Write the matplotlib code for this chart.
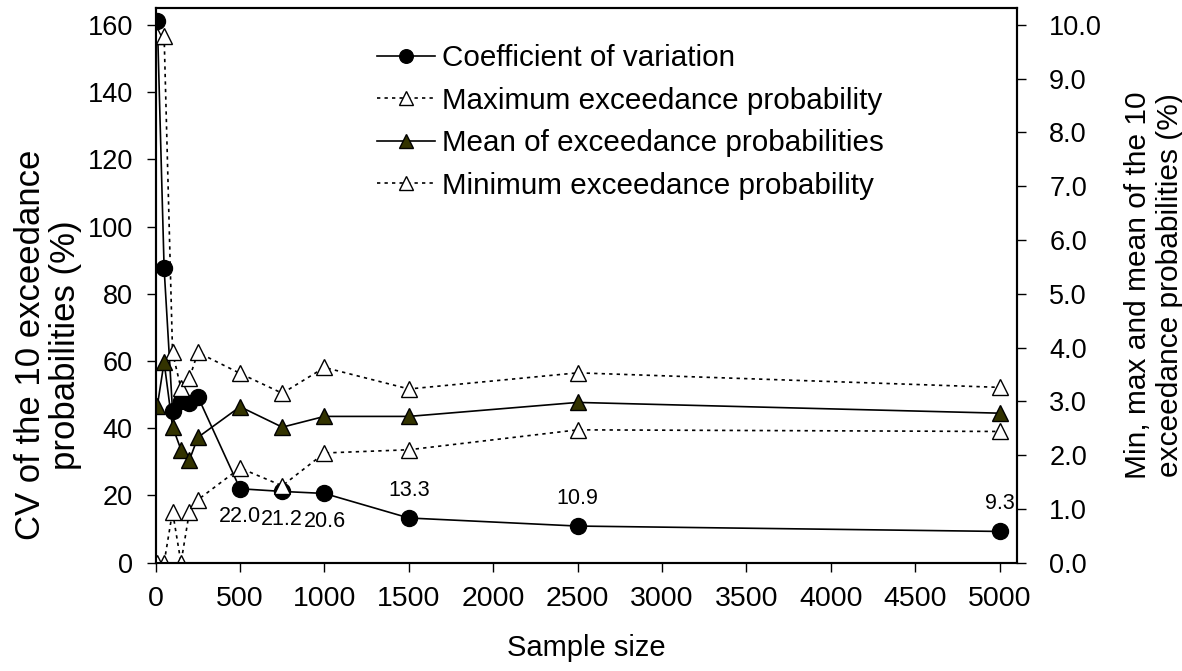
import matplotlib
matplotlib.use("Agg")
import matplotlib.pyplot as plt
from matplotlib.ticker import FormatStrFormatter

plt.rcParams['font.family'] = ['Liberation Sans', 'DejaVu Sans']

sample_size = [10, 50, 100, 150, 200, 250, 500, 750, 1000, 1500, 2500, 5000]
cv = [161.0, 87.6, 45.1, 48.0, 47.6, 49.4, 22.0, 21.2, 20.6, 13.3, 10.9, 9.3]
max_prob = [9.8, 9.8, 3.91, 3.24, 3.43, 3.91, 3.52, 3.15, 3.63, 3.23, 3.53, 3.26]
mean_prob = [2.92, 3.73, 2.53, 2.10, 1.91, 2.33, 2.90, 2.52, 2.72, 2.72, 2.98, 2.78]
min_prob = [0.0, 0.0, 0.95, 0.0, 0.95, 1.17, 1.76, 1.43, 2.04, 2.10, 2.47, 2.44]

# which CV points get a value label, and whether it sits below or above
labelled = {500: -1, 750: -1, 1000: -1, 1500: 1, 2500: 1, 5000: 1}

fig = plt.figure(figsize=(11.82, 6.71), dpi=100)
ax = fig.add_axes([0.1317, 0.1614, 0.7283, 0.8266])
ax2 = ax.twinx()

dots = (0, (2, 2.5))
l1, = ax.plot(sample_size, cv, '-', color='black', lw=1.2, marker='o',
              ms=11.5, mfc='black', mec='black', label='Coefficient of variation')
l2, = ax2.plot(sample_size, max_prob, linestyle=dots, color='black', lw=1.2,
               marker='^', ms=12, mfc='white', mec='black', mew=1.0,
               label='Maximum exceedance probability')
l3, = ax2.plot(sample_size, mean_prob, '-', color='black', lw=1.2, marker='^',
               ms=12, mfc='#333300', mec='black', mew=1.0,
               label='Mean of exceedance probabilities')
l4, = ax2.plot(sample_size, min_prob, linestyle=dots, color='black', lw=1.2,
               marker='^', ms=12, mfc='white', mec='black', mew=1.0,
               label='Minimum exceedance probability')

for x, y in zip(sample_size, cv):
    if x in labelled:
        ax.annotate(f'{y:.1f}', (x, y), xytext=(0, 20 * labelled[x]),
                    textcoords='offset points', ha='center', va='center', fontsize=15.5)

ax.set_xlim(0, 5100)
ax.set_ylim(0, 165)
ax2.set_ylim(0, 165 / 16)
ax.set_xticks(range(0, 5001, 500))
ax.set_yticks(range(0, 161, 20))
ax2.set_yticks([i * 1.0 for i in range(11)])
ax2.yaxis.set_major_formatter(FormatStrFormatter('%.1f'))

ax.tick_params(axis='x', direction='out', length=6.5, width=1, labelsize=20.5, pad=10)
ax.tick_params(axis='y', direction='out', length=6.5, width=1, labelsize=19.5, pad=10)
ax2.tick_params(axis='y', direction='out', length=6.5, width=1, labelsize=19.5, pad=17)
for a in (ax, ax2):
    for s in a.spines.values():
        s.set_linewidth(1.5)

ax.set_xlabel('Sample size', fontsize=21, labelpad=16)
ax.set_ylabel('CV of the 10 exceedance\nprobabilities (%)', fontsize=25,
              linespacing=1.1)
ax.yaxis.set_label_coords(-0.085, 0.393)
ax2.set_ylabel('Min, max and mean of the 10\nexceedance probabilities (%)',
               fontsize=21.5, labelpad=16, linespacing=1.15)

ax2.legend(handles=[l1, l2, l3, l4], loc='upper left', bbox_to_anchor=(0.319, 0.934),
           bbox_transform=fig.transFigure, frameon=False, fontsize=21.3,
           borderpad=0, borderaxespad=0, handlelength=1.96, handletextpad=0.23,
           labelspacing=0.49, markerscale=0.85)

fig.savefig('out.png', dpi=100)
